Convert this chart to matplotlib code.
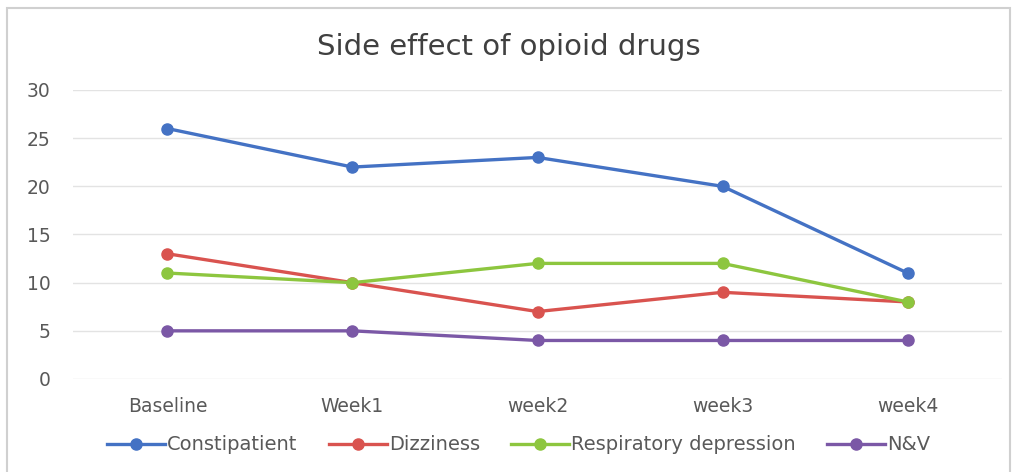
import matplotlib.pyplot as plt
from matplotlib.patches import Rectangle

categories = ["Baseline", "Week1", "week2", "week3", "week4"]
constipatient = [26, 22, 23, 20, 11]
dizziness = [13, 10, 7, 9, 8]
respiratory = [11, 10, 12, 12, 8]
nv = [5, 5, 4, 4, 4]

series = [
    ("Constipatient", constipatient, "#4472C4"),
    ("Dizziness", dizziness, "#D9534F"),
    ("Respiratory depression", respiratory, "#8DC63F"),
    ("N&V", nv, "#7B58A6"),
]

fig = plt.figure(figsize=(10.17, 4.72), dpi=100)
ax = fig.add_axes([73 / 1017, 1 - 379 / 472, (1002 - 73) / 1017, (379 - 90) / 472])

x = range(len(categories))
for name, vals, color in series:
    ax.plot(x, vals, color=color, lw=2.4, marker="o", ms=8, label=name)

ax.set_xlim(-0.51, 4.51)
ax.set_ylim(0, 30)
ax.set_yticks(range(0, 31, 5))
ax.set_xticks(list(x))
ax.set_xticklabels(categories)
ax.grid(axis="y", color="#e3e3e3", lw=1)
ax.set_axisbelow(True)
for s in ax.spines.values():
    s.set_visible(False)
ax.tick_params(length=0, labelsize=13.5, colors="#595959", pad=13)
ax.tick_params(axis="y", pad=16)

fig.text(0.5, 1 - 47 / 472, "Side effect of opioid drugs", ha="center", va="center",
         fontsize=21, color="#404040")

fig.legend(loc="center", bbox_to_anchor=(0.51, 1 - 445 / 472), ncol=4, frameon=False,
           fontsize=14, labelcolor="#595959", handlelength=3.0, columnspacing=1.6,
           handletextpad=0.1)

fig.patches.append(Rectangle((7 / 1017, -0.05), (1010 - 7) / 1017, 1 - 8 / 472 + 0.05,
                             transform=fig.transFigure, fill=False, ec="#d0d0d0", lw=1.5))

fig.savefig("out.png", dpi=100)
